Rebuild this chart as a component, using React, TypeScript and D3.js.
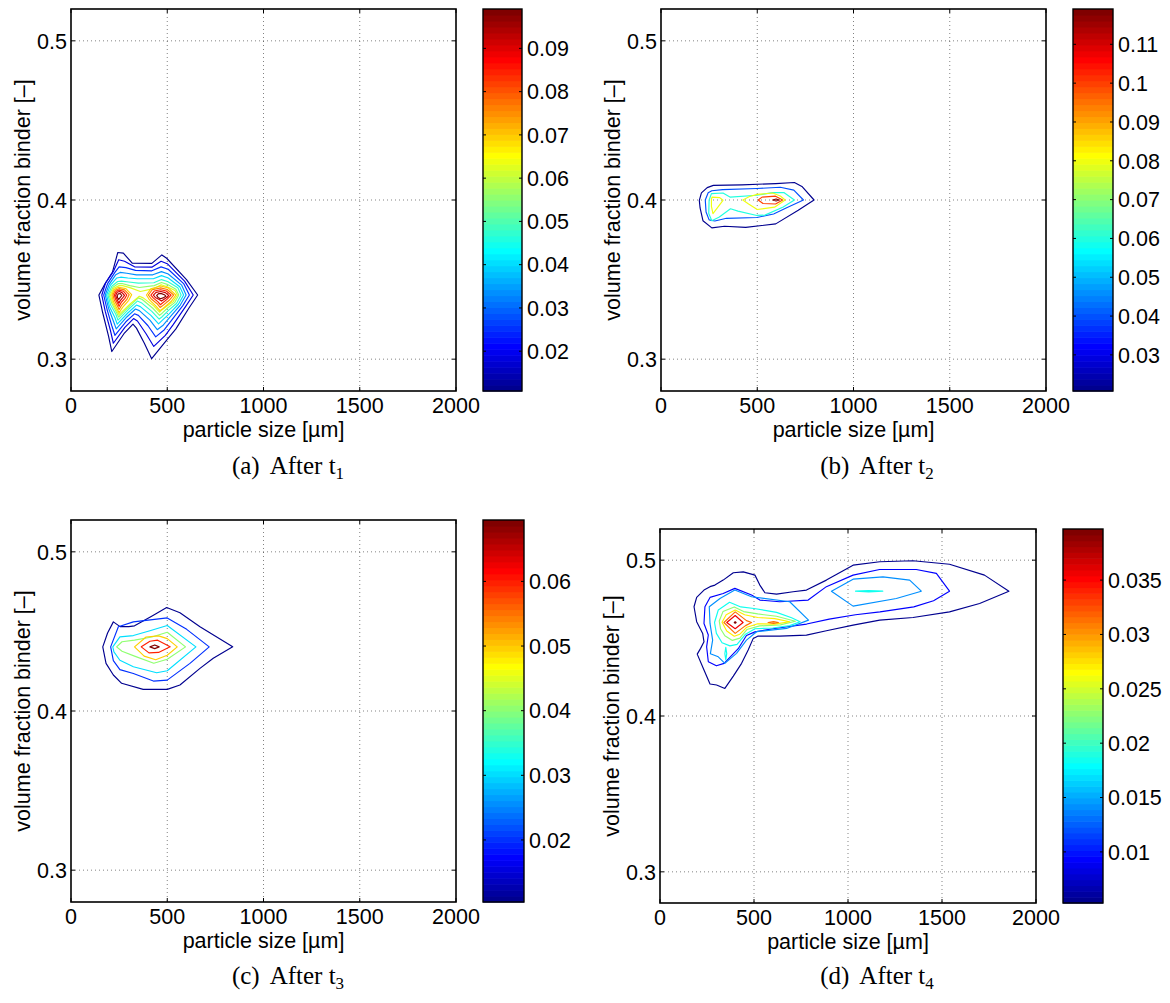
import React from 'react';
import * as d3 from 'd3';

// shared axes
const xTicks = [0, 500, 1000, 1500, 2000];
const yTicks = [0.3, 0.4, 0.5];
const xDomain = [0, 2000];
const yDomain = [0.28, 0.52];

// (a) After t1
const levelsA = [0.0108, 0.0182, 0.0255, 0.0329, 0.0402, 0.0476, 0.055, 0.0623, 0.0697, 0.077, 0.0844, 0.0917, 0.0991];
const cbTicksA = [0.02, 0.03, 0.04, 0.05, 0.06, 0.07, 0.08, 0.09];
const cbLabelsA = ['0.02', '0.03', '0.04', '0.05', '0.06', '0.07', '0.08', '0.09'];
const contoursA: [number, number[][]][] = [
  [0, [[145,0.3403],[175,0.347],[215,0.3545],[243,0.367],[272,0.3666],[318,0.3603],[420,0.3602],[472,0.3655],[497,0.3634],[600,0.35],[658,0.3403],[612,0.332],[545,0.319],[497,0.312],[419,0.3003],[381,0.31],[340,0.3195],[322,0.322],[275,0.316],[212,0.3048],[195,0.3145],[165,0.329]]],
  [1, [[160,0.3403],[180,0.348],[222,0.3555],[248,0.3625],[278,0.3615],[330,0.358],[420,0.3578],[468,0.3615],[500,0.36],[590,0.349],[635,0.3403],[595,0.333],[530,0.3215],[490,0.315],[430,0.308],[390,0.316],[345,0.324],[325,0.3255],[280,0.32],[220,0.31],[205,0.318],[178,0.33]]],
  [2, [[170,0.3403],[190,0.3475],[228,0.3545],[250,0.358],[285,0.3575],[335,0.3558],[420,0.3555],[468,0.358],[505,0.3565],[585,0.3475],[615,0.3403],[580,0.3335],[520,0.324],[485,0.3185],[440,0.314],[400,0.321],[350,0.3275],[330,0.3285],[285,0.3235],[228,0.315],[212,0.321],[188,0.331]]],
  [3, [[178,0.3403],[198,0.347],[232,0.353],[255,0.3545],[290,0.354],[340,0.353],[425,0.353],[470,0.355],[505,0.3535],[575,0.3465],[598,0.3403],[568,0.334],[515,0.3265],[480,0.3215],[448,0.3185],[410,0.3245],[355,0.3305],[335,0.3315],[290,0.3265],[235,0.319],[220,0.324],[195,0.332]]],
  [4, [[185,0.3403],[205,0.3465],[238,0.351],[258,0.3515],[295,0.351],[345,0.3505],[428,0.3505],[470,0.3525],[505,0.351],[565,0.3455],[585,0.3403],[558,0.3345],[510,0.3285],[475,0.3245],[455,0.3222],[415,0.3275],[360,0.333],[340,0.334],[295,0.329],[240,0.322],[228,0.3262],[200,0.333]]],
  [5, [[192,0.3403],[212,0.3458],[242,0.3488],[262,0.349],[300,0.3485],[350,0.3478],[430,0.348],[470,0.35],[502,0.3488],[555,0.3448],[572,0.3403],[548,0.335],[505,0.3305],[472,0.3265],[458,0.3252],[420,0.33],[365,0.3355],[345,0.3365],[300,0.3315],[244,0.3245],[233,0.3282],[206,0.334]]],
  [6, [[198,0.3403],[218,0.3452],[246,0.3475],[265,0.3475],[305,0.3462],[355,0.345],[432,0.3462],[470,0.3482],[500,0.347],[545,0.344],[560,0.3403],[538,0.3355],[500,0.332],[470,0.3285],[460,0.3275],[425,0.332],[370,0.3375],[350,0.3385],[305,0.3335],[247,0.3265],[238,0.329],[212,0.335]]],
  [7, [[205,0.3403],[222,0.3445],[250,0.3462],[268,0.3462],[310,0.3448],[360,0.3425],[435,0.3445],[468,0.3468],[500,0.3455],[540,0.3432],[553,0.3403],[530,0.336],[495,0.333],[468,0.3305],[460,0.3295],[430,0.3335],[375,0.3385],[355,0.3395],[310,0.335],[249,0.328],[240,0.33],[215,0.3358]]],
  [8, [[212,0.3403],[224,0.3438],[248,0.3452],[285,0.3443],[315,0.3405],[300,0.337],[268,0.3325],[250,0.3292],[240,0.3315],[220,0.3362]]],
  [9, [[218,0.3403],[230,0.3433],[249,0.3443],[278,0.3435],[302,0.3405],[290,0.3375],[264,0.334],[250,0.3312],[243,0.333],[226,0.3368]]],
  [10, [[225,0.3402],[235,0.3427],[250,0.3434],[272,0.3427],[290,0.3403],[280,0.3382],[260,0.3355],[250,0.3332],[245,0.3345],[232,0.3375]]],
  [11, [[232,0.34],[240,0.342],[251,0.3425],[265,0.3418],[278,0.34],[268,0.3385],[256,0.3368],[249,0.3352],[238,0.338]]],
  [12, [[240,0.3398],[246,0.3411],[256,0.3412],[264,0.34],[254,0.3385],[248,0.3375],[242,0.3386]]],
  [8, [[392,0.3403],[415,0.3442],[465,0.346],[505,0.3448],[545,0.3403],[520,0.3362],[478,0.3318],[462,0.3305],[440,0.3335],[408,0.3372]]],
  [9, [[402,0.3403],[422,0.3436],[466,0.3448],[500,0.3438],[533,0.3403],[510,0.337],[475,0.3335],[463,0.3325],[446,0.335],[416,0.338]]],
  [10, [[415,0.3403],[432,0.3428],[466,0.3436],[495,0.3428],[520,0.3402],[500,0.3377],[472,0.335],[464,0.3342],[452,0.336],[427,0.3385]]],
  [11, [[428,0.3402],[442,0.342],[467,0.3425],[490,0.3418],[508,0.34],[492,0.3383],[470,0.3365],[458,0.3375],[438,0.3388]]],
  [12, [[445,0.34],[455,0.3412],[470,0.3412],[485,0.3405],[493,0.3396],[478,0.3385],[465,0.338],[452,0.3388]]],
];

// (b) After t2
const levelsB = [0.0207, 0.0404, 0.0601, 0.0797, 0.0994, 0.1191];
const cbTicksB = [0.03, 0.04, 0.05, 0.06, 0.07, 0.08, 0.09, 0.1, 0.11];
const cbLabelsB = ['0.03', '0.04', '0.05', '0.06', '0.07', '0.08', '0.09', '0.1', '0.11'];
const contoursB: [number, number[][]][] = [
  [0, [[199,0.3998],[210,0.4045],[240,0.4078],[272,0.4092],[420,0.4095],[596,0.4103],[693,0.411],[732,0.4085],[795,0.4],[713,0.3935],[596,0.385],[440,0.3828],[330,0.3835],[264,0.3825],[218,0.387],[203,0.395]]],
  [1, [[230,0.4],[245,0.4045],[264,0.4058],[320,0.4065],[498,0.4072],[620,0.408],[690,0.4062],[740,0.4],[650,0.395],[585,0.3912],[498,0.389],[340,0.3885],[280,0.3868],[250,0.3875],[234,0.3925]]],
  [2, [[250,0.4],[262,0.404],[322,0.4044],[360,0.4018],[498,0.403],[580,0.4046],[640,0.4046],[693,0.4],[635,0.3956],[540,0.3905],[498,0.3903],[400,0.393],[361,0.3945],[303,0.3893],[264,0.387],[248,0.3915]]],
  [3, [[262,0.4005],[265,0.4018],[305,0.4015],[322,0.3998],[270,0.3915],[262,0.396]]],
  [3, [[425,0.4],[460,0.4022],[500,0.4035],[580,0.4044],[620,0.4025],[645,0.4],[590,0.3955],[500,0.394],[455,0.3975]]],
  [4, [[505,0.4],[525,0.4018],[595,0.4024],[632,0.4],[595,0.3975],[530,0.3978]]],
  [5, [[580,0.4],[598,0.4006],[615,0.4],[598,0.3994]]],
];

// (c) After t3
const levelsC = [0.0104, 0.0203, 0.0301, 0.04, 0.0498, 0.0597, 0.0695];
const cbTicksC = [0.02, 0.03, 0.04, 0.05, 0.06];
const cbLabelsC = ['0.02', '0.03', '0.04', '0.05', '0.06'];
const contoursC: [number, number[][]][] = [
  [0, [[165,0.4403],[190,0.449],[220,0.456],[255,0.453],[300,0.453],[330,0.4535],[419,0.4596],[497,0.465],[566,0.4617],[670,0.4529],[840,0.4403],[739,0.4331],[670,0.4268],[566,0.4163],[500,0.4136],[375,0.4136],[263,0.4174],[220,0.4226],[182,0.4299]]],
  [1, [[206,0.4403],[246,0.4529],[324,0.456],[500,0.4585],[601,0.4513],[718,0.4403],[618,0.4299],[500,0.4194],[428,0.4188],[324,0.4236],[254,0.426],[220,0.4317]]],
  [2, [[217,0.4403],[254,0.4466],[324,0.4474],[410,0.4504],[500,0.4537],[649,0.4403],[500,0.4253],[445,0.424],[324,0.4278],[254,0.4319],[223,0.4371]]],
  [3, [[237,0.4403],[265,0.4435],[330,0.4445],[420,0.4465],[500,0.4495],[595,0.4403],[500,0.4325],[430,0.43],[330,0.4345],[265,0.4375]]],
  [4, [[330,0.4403],[390,0.4465],[455,0.4472],[500,0.4455],[552,0.4403],[500,0.435],[440,0.4322],[380,0.4345]]],
  [5, [[365,0.4403],[410,0.4438],[450,0.4445],[515,0.4403],[455,0.4368],[405,0.4365]]],
  [6, [[410,0.4403],[435,0.4415],[458,0.4403],[435,0.4392]]],
];

// (d) After t4
const levelsD = [0.0053, 0.0096, 0.0139, 0.0182, 0.0225, 0.0268, 0.0311, 0.0354, 0.0397];
const cbTicksD = [0.01, 0.015, 0.02, 0.025, 0.03, 0.035];
const cbLabelsD = ['0.01', '0.015', '0.02', '0.025', '0.03', '0.035'];
const contoursD: [number, number[][]][] = [
  [0, [[1856,0.4801],[1726,0.4904],[1540,0.4974],[1346,0.4996],[1169,0.499],[1027,0.4968],[885,0.4872],[779,0.4808],[708,0.4797],[620,0.4782],[558,0.4791],[531,0.484],[505,0.4904],[443,0.4925],[390,0.4919],[336,0.4872],[292,0.484],[266,0.483],[234,0.4808],[195,0.4761],[181,0.4701],[195,0.4605],[227,0.453],[234,0.4476],[216,0.4434],[198,0.4397],[230,0.4306],[266,0.4205],[301,0.4199],[345,0.4177],[390,0.4256],[434,0.4338],[469,0.4423],[496,0.4498],[522,0.4513],[637,0.4513],[779,0.4519],[885,0.4547],[1027,0.4583],[1169,0.4615],[1346,0.4632],[1540,0.4668],[1700,0.4722]]],
  [1, [[1540,0.4801],[1470,0.4915],[1363,0.494],[1168,0.494],[1027,0.4904],[885,0.483],[788,0.4744],[637,0.4733],[531,0.4744],[487,0.4776],[398,0.4819],[336,0.4786],[266,0.4761],[239,0.4701],[234,0.4594],[257,0.452],[248,0.4444],[257,0.4348],[300,0.4322],[341,0.4338],[416,0.4432],[460,0.4517],[505,0.454],[600,0.456],[780,0.459],[900,0.4622],[1040,0.465],[1170,0.4668],[1350,0.47],[1455,0.474]]],
  [2, [[262,0.4701],[319,0.4754],[398,0.4808],[487,0.4765],[690,0.4733],[790,0.4615],[673,0.4562],[514,0.4541],[460,0.4487],[407,0.4402],[345,0.4338],[310,0.438],[268,0.44],[280,0.4487],[266,0.4594]]],
  [2, [[912,0.4801],[1027,0.4878],[1186,0.4893],[1328,0.4872],[1390,0.4801],[1257,0.4754],[1027,0.4705]]],
  [3, [[290,0.46],[310,0.468],[370,0.473],[430,0.47],[500,0.469],[620,0.4665],[700,0.463],[745,0.4605],[690,0.458],[600,0.4565],[505,0.456],[455,0.4525],[410,0.446],[372,0.445],[330,0.447],[300,0.453]]],
  [3, [[345,0.44],[350,0.444],[355,0.44],[350,0.436]]],
  [3, [[1040,0.4801],[1110,0.4805],[1185,0.4801],[1110,0.4797]]],
  [4, [[315,0.461],[335,0.467],[395,0.47],[445,0.467],[520,0.4655],[620,0.464],[720,0.4608],[640,0.4585],[530,0.4578],[462,0.4555],[425,0.45],[385,0.4485],[345,0.4515],[322,0.456]]],
  [5, [[330,0.4602],[352,0.465],[400,0.468],[450,0.465],[520,0.4632],[610,0.4625],[690,0.4605],[610,0.459],[520,0.4592],[462,0.457],[425,0.4525],[395,0.4512],[355,0.4545]]],
  [6, [[340,0.46],[400,0.4668],[460,0.4612],[487,0.46],[455,0.458],[400,0.453]]],
  [6, [[575,0.46],[604,0.4606],[630,0.46],[604,0.4594]]],
  [7, [[355,0.46],[400,0.4645],[442,0.46],[400,0.456]]],
  [8, [[395,0.46],[400,0.4605],[405,0.46],[400,0.4595]]],
];

// MATLAB jet(64)
function jet(m: number): string[] {
  const n = Math.ceil(m / 4);
  const u: number[] = [];
  for (let i = 1; i <= n; i++) u.push(i / n);
  for (let i = 1; i < n; i++) u.push(1);
  for (let i = n; i >= 1; i--) u.push(i / n);
  const g0 = Math.ceil(n / 2) - (m % 4 === 1 ? 1 : 0);
  const J = Array.from({ length: m }, () => [0, 0, 0]);
  u.forEach((v, k) => {
    const g = g0 + k + 1;
    const r = g + n;
    const b = g - n;
    if (r >= 1 && r <= m) J[r - 1][0] = v;
    if (g >= 1 && g <= m) J[g - 1][1] = v;
    if (b >= 1 && b <= m) J[b - 1][2] = v;
  });
  return J.map(([r, g, b]) => d3.rgb(r * 255, g * 255, b * 255).formatHex());
}
const cmap = jet(64);

const sans = '"Liberation Sans", Arial, Helvetica, sans-serif';
const serif = '"Liberation Serif", "Times New Roman", serif';
const fs = 21.5;

type PanelProps = {
  x0: number; x1: number; y0: number; y1: number;
  cb0: number; cb1: number;
  levels: number[];
  contours: [number, number[][]][];
  cbTicks: number[];
  cbLabels: string[];
  letter: string;
  sub: string;
  capX: number;
  capY: number;
};

function Panel(p: PanelProps) {
  const x = d3.scaleLinear().domain(xDomain).range([p.x0, p.x1]);
  const y = d3.scaleLinear().domain(yDomain).range([p.y1, p.y0]);
  const cmin = p.levels[0];
  const cmax = p.levels[p.levels.length - 1];
  const colorOf = (v: number) => {
    const i = Math.floor(((v - cmin) / (cmax - cmin)) * 64);
    return cmap[Math.max(0, Math.min(63, i))];
  };
  const line = d3.line<number[]>().x(d => x(d[0])).y(d => y(d[1])).curve(d3.curveLinearClosed);
  const cy = d3.scaleLinear().domain([cmin, cmax]).range([p.y1, p.y0]);
  const band = (p.y1 - p.y0) / 64;
  const tl = 4;

  return (
    <g>
      {/* grid */}
      {xTicks.slice(1, -1).map(t => (
        <line key={'gx' + t} x1={x(t)} x2={x(t)} y1={p.y0} y2={p.y1} stroke="#000" strokeOpacity={0.55} strokeWidth={0.9} strokeDasharray="1 3" />
      ))}
      {yTicks.map(t => (
        <line key={'gy' + t} x1={p.x0} x2={p.x1} y1={y(t)} y2={y(t)} stroke="#000" strokeOpacity={0.55} strokeWidth={0.9} strokeDasharray="1 3" />
      ))}
      {/* contours */}
      {p.contours.map(([li, pts], i) => (
        <path key={'c' + i} d={line(pts) || ''} fill="none" stroke={colorOf(p.levels[li])} strokeWidth={1.15} strokeLinejoin="round" />
      ))}
      {/* ticks */}
      {xTicks.map(t => (
        <g key={'tx' + t}>
          <line x1={x(t)} x2={x(t)} y1={p.y1} y2={p.y1 - tl} stroke="#000" />
          <line x1={x(t)} x2={x(t)} y1={p.y0} y2={p.y0 + tl} stroke="#000" />
          <text x={x(t)} y={p.y1 + 22} textAnchor="middle" fontFamily={sans} fontSize={fs}>{t}</text>
        </g>
      ))}
      {yTicks.map(t => (
        <g key={'ty' + t}>
          <line x1={p.x0} x2={p.x0 + tl} y1={y(t)} y2={y(t)} stroke="#000" />
          <line x1={p.x1} x2={p.x1 - tl} y1={y(t)} y2={y(t)} stroke="#000" />
          <text x={p.x0 - 4} y={y(t)} dy="0.36em" textAnchor="end" fontFamily={sans} fontSize={fs}>{t.toFixed(1)}</text>
        </g>
      ))}
      <rect x={p.x0} y={p.y0} width={p.x1 - p.x0} height={p.y1 - p.y0} fill="none" stroke="#000" strokeWidth={1.6} />
      <text x={(p.x0 + p.x1) / 2} y={p.y1 + 46} textAnchor="middle" fontFamily={sans} fontSize={fs}>particle size [µm]</text>
      <text transform={`translate(${p.x0 - 41},${(p.y0 + p.y1) / 2}) rotate(-90)`} textAnchor="middle" fontFamily={sans} fontSize={fs}>volume fraction binder [–]</text>
      {/* colorbar */}
      {cmap.map((c, i) => (
        <rect key={'cb' + i} x={p.cb0} y={p.y1 - (i + 1) * band} width={p.cb1 - p.cb0} height={band + 0.6} fill={c} />
      ))}
      {p.cbTicks.map((t, i) => (
        <g key={'ct' + t}>
          <line x1={p.cb0} x2={p.cb0 + 3} y1={cy(t)} y2={cy(t)} stroke="#000" />
          <line x1={p.cb1} x2={p.cb1 - 3} y1={cy(t)} y2={cy(t)} stroke="#000" />
          <text x={p.cb1 + 5} y={cy(t)} dy="0.36em" fontFamily={sans} fontSize={fs}>{p.cbLabels[i]}</text>
        </g>
      ))}
      <rect x={p.cb0} y={p.y0} width={p.cb1 - p.cb0} height={p.y1 - p.y0} fill="none" stroke="#000" strokeWidth={1.4} />
      {/* caption */}
      <text x={p.capX} y={p.capY} textAnchor="middle" fontFamily={serif} fontSize={25}>
        <tspan>({p.letter})</tspan>
        <tspan dx={10}>After t</tspan>
        <tspan dy={5} fontSize={17}>{p.sub}</tspan>
      </text>
    </g>
  );
}

export default function App() {
  return (
    <svg width={1170} height={1003} viewBox="0 0 1170 1003" style={{ position: 'absolute', left: 0, top: 0, background: '#fff' }}>
      <rect x={0} y={0} width={1170} height={1003} fill="#fff" />
      <Panel x0={71} x1={456} y0={9} y1={391} cb0={483} cb1={522} levels={levelsA} contours={contoursA} cbTicks={cbTicksA} cbLabels={cbLabelsA} letter="a" sub="1" capX={288} capY={474} />
      <Panel x0={661} x1={1046} y0={9} y1={391} cb0={1073} cb1={1113} levels={levelsB} contours={contoursB} cbTicks={cbTicksB} cbLabels={cbLabelsB} letter="b" sub="2" capX={877} capY={474} />
      <Panel x0={71} x1={456} y0={520} y1={902} cb0={483} cb1={524} levels={levelsC} contours={contoursC} cbTicks={cbTicksC} cbLabels={cbLabelsC} letter="c" sub="3" capX={288} capY={984} />
      <Panel x0={660} x1={1036} y0={529} y1={903} cb0={1063} cb1={1103} levels={levelsD} contours={contoursD} cbTicks={cbTicksD} cbLabels={cbLabelsD} letter="d" sub="4" capX={877} capY={984} />
    </svg>
  );
}
